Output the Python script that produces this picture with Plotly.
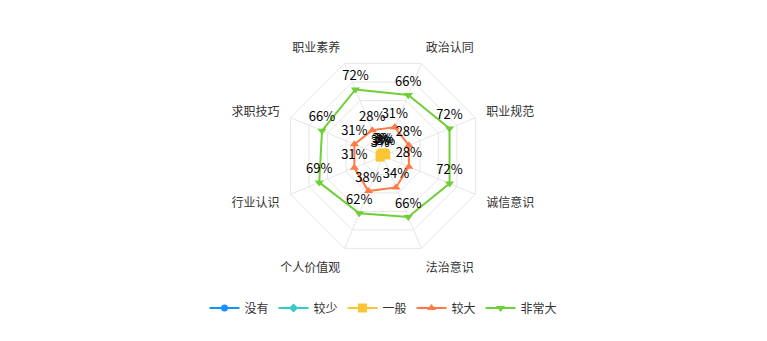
import plotly.graph_objects as go

categories = ["政治认同", "职业规范", "诚信意识", "法治意识", "个人价值观", "行业认识", "求职技巧", "职业素养"]
series_names = ["没有", "较少", "一般", "较大", "非常大"]
v_none = [0, 0, 0, 0, 0, 0, 0, 0]
v_less = [0, 0, 0, 0, 0, 0, 0, 0]
v_normal = [3, 3, 0, 0, 0, 3, 3, 3]
v_large = [31, 28, 28, 34, 38, 31, 31, 28]
v_vlarge = [66, 72, 72, 66, 62, 69, 66, 72]

colors = ["#1890ff", "#36cbcb", "#fbc535", "#ff7a45", "#6fcf36"]
symbols = ["circle", "diamond", "square", "triangle-up", "triangle-down"]
sizes = [7, 7, 9, 8, 8]

font_family = "Noto Sans CJK SC, Noto Sans, sans-serif"

fig = go.Figure()
for name, vals, col, sym, sz in zip(series_names, [v_none, v_less, v_normal, v_large, v_vlarge], colors, symbols, sizes):
    r = vals + [vals[0]]
    theta = categories + [categories[0]]
    text = [f"{v}%" for v in vals] + [""]
    fig.add_trace(go.Scatterpolar(
        r=r, theta=theta, name=name,
        mode="lines+markers+text",
        text=text, textposition="top center",
        textfont=dict(family=font_family, size=13, color="#000000"),
        line=dict(color=col, width=2),
        marker=dict(color=col, symbol=sym, size=sz),
        cliponaxis=False,
        hoverinfo="skip",
    ))

cx, cy, R = 383, 156, 100
W, H = 767, 341
fig.update_layout(
    width=W, height=H,
    margin=dict(l=0, r=0, t=0, b=0),
    paper_bgcolor="white", plot_bgcolor="white",
    font=dict(family=font_family, size=12, color="#333333"),
    polar=dict(
        domain=dict(x=[(cx - R) / W, (cx + R) / W], y=[1 - (cy + R) / H, 1 - (cy - R) / H]),
        bgcolor="white",
        gridshape="linear",
        angularaxis=dict(
            direction="clockwise", rotation=67.5,
            showline=True, linecolor="#e6e6e6", linewidth=1,
            gridcolor="#e6e6e6", gridwidth=1,
            ticks="outside", ticklen=9, tickcolor="rgba(0,0,0,0)",
            tickfont=dict(family=font_family, size=12, color="#333333"),
        ),
        radialaxis=dict(
            range=[0, 100], dtick=20, showline=False, showticklabels=False,
            ticks="", gridcolor="#e6e6e6", gridwidth=1,
        ),
    ),
    legend=dict(
        orientation="h", x=0.5, xanchor="center", y=1 - 308 / H, yanchor="middle",
        font=dict(family=font_family, size=12, color="#333333"),
        itemclick=False,
    ),
    showlegend=True,
)

fig.write_html("out.html")
